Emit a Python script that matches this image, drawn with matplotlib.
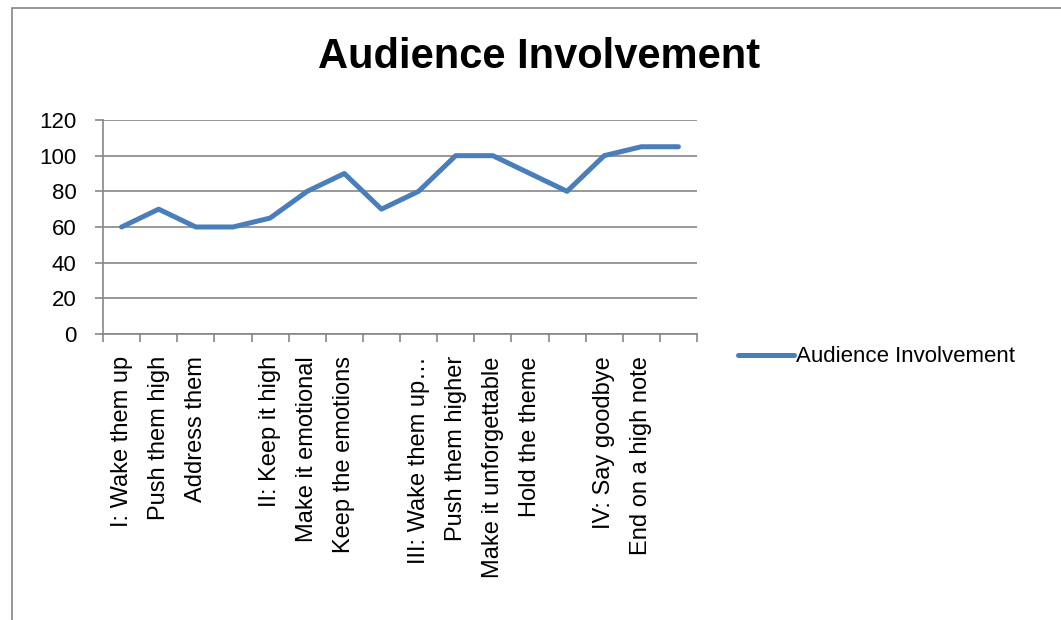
import numpy as np
import matplotlib.pyplot as plt
from matplotlib.patches import Rectangle

stages = ["I: Wake them up", "Push them high", "Address them", "",
          "II: Keep it high", "Make it emotional", "Keep the emotions", "",
          "III: Wake them up…", "Push them higher", "Make it unforgettable", "Hold the theme", "",
          "IV: Say goodbye", "End on a high note", ""]
involvement = [60, 70, 60, 60, 65, 80, 90, 70, 80, 100, 100, 90, 80, 100, 105, 105]
y_ticks = [0, 20, 40, 60, 80, 100, 120]

plt.rcParams['font.family'] = ['Liberation Sans', 'DejaVu Sans']

fig = plt.figure(figsize=(10.61, 6.2), dpi=100)
ax = fig.add_axes([103 / 1061, 1 - 334 / 620, 594 / 1061, 214 / 620])

# outer chart border (only left and top visible in the reference)
fig.patches.append(Rectangle((12 / 1061, -0.1), 1.2, 1 - 8 / 620 + 0.1, transform=fig.transFigure,
                             fill=False, edgecolor="#868686", linewidth=1.2))

x = np.arange(len(stages))
line, = ax.plot(x, involvement, color="#4a7ebb", linewidth=3.6, solid_capstyle="round",
                solid_joinstyle="round", label="Audience Involvement", zorder=3)

ax.set_xlim(-0.5, len(stages) - 0.5)
ax.set_ylim(0, 120)
ax.set_yticks(y_ticks)
ax.set_yticklabels([str(v) for v in y_ticks], fontsize=16)
ax.set_xticks(x)
ax.set_xticklabels(stages, rotation=90, fontsize=17, va="top")
ax.set_xticks(np.arange(len(stages) + 1) - 0.5, minor=True)
ax.tick_params(axis="x", which="major", length=0, pad=16)
ax.tick_params(axis="x", which="minor", length=6, color="#868686", width=1.2)
ax.tick_params(axis="y", length=6, color="#868686", width=1.2, pad=13)

ax.grid(axis="y", color="#868686", linewidth=1.2)
ax.set_axisbelow(True)
for side in ["top", "right"]:
    ax.spines[side].set_visible(False)
for side in ["left", "bottom"]:
    ax.spines[side].set_color("#868686")
    ax.spines[side].set_linewidth(1.2)

fig.text(539 / 1061, 1 - 57 / 620, "Audience Involvement", ha="center", va="center",
         fontsize=30, fontweight="bold")

fig.legend(handles=[line], loc="center left", bbox_to_anchor=(718 / 1061, 1 - 357 / 620),
           frameon=False, fontsize=16, handlelength=2.5, handletextpad=0.1)

plt.savefig("out.png", dpi=100)
